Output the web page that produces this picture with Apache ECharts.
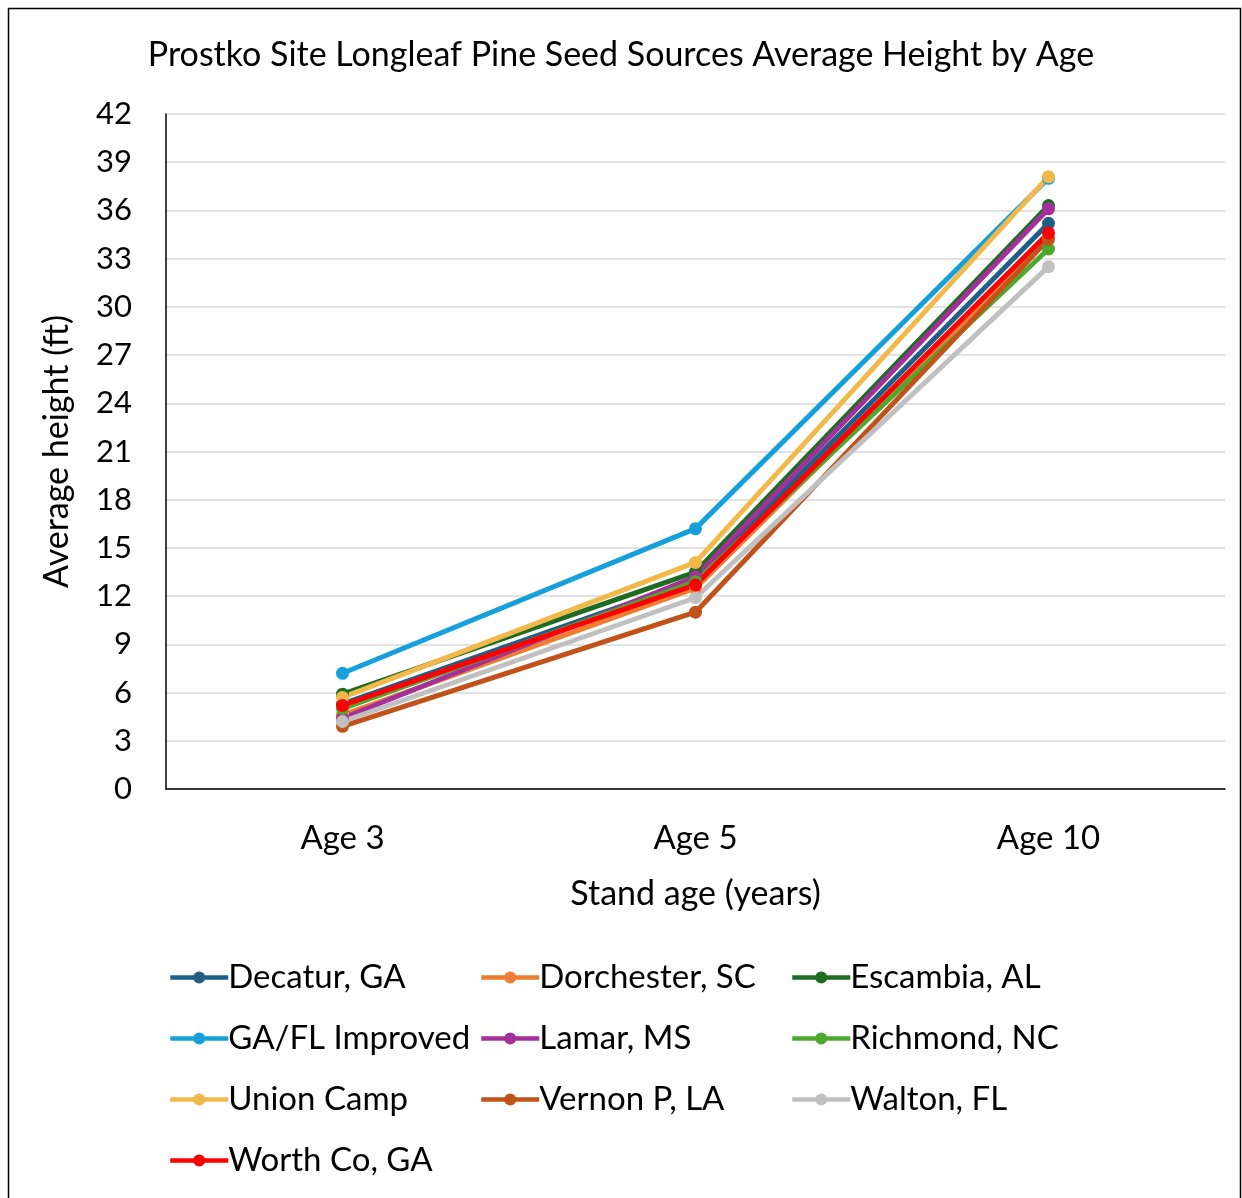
<!DOCTYPE html>
<html>
<head>
<meta charset="utf-8">
<script src="https://cdn.jsdelivr.net/npm/echarts@6/dist/echarts.min.js"></script>
<style>
  html, body { margin: 0; padding: 0; background: #fff; }
  #chart { width: 1242px; height: 1198px; }
</style>
</head>
<body>
<div id="chart"></div>
<script>
// stand ages on the x axis
const ages = ['Age 3', 'Age 5', 'Age 10'];

// average height (ft) per seed source
const decatur     = [5.3, 13.0, 35.2];
const dorchester  = [4.6, 12.5, 34.3];
const escambia    = [5.9, 13.5, 36.3];
const gaflImproved = [7.2, 16.2, 38.0];
const lamar       = [4.4, 13.2, 36.1];
const richmond    = [5.0, 12.9, 33.6];
const unionCamp   = [5.7, 14.1, 38.1];
const vernon      = [3.9, 11.0, 34.2];
const walton      = [4.2, 11.9, 32.5];
const worthCo     = [5.2, 12.7, 34.6];

const sources = [
  ['Decatur, GA', decatur, '#1F5F86'],
  ['Dorchester, SC', dorchester, '#ED7D31'],
  ['Escambia, AL', escambia, '#1E6B24'],
  ['GA/FL Improved', gaflImproved, '#15A0DB'],
  ['Lamar, MS', lamar, '#A5309A'],
  ['Richmond, NC', richmond, '#4EA72E'],
  ['Union Camp', unionCamp, '#F2B94A'],
  ['Vernon P, LA', vernon, '#C0521A'],
  ['Walton, FL', walton, '#C0C0C0'],
  ['Worth Co, GA', worthCo, '#FF0000']
];

const font = 'Lato, "Open Sans", sans-serif';

// legend: 3 columns, one legend per entry so the columns line up
const legendCols = [163, 474, 785];
const legendRows = [956, 1017, 1078, 1139];
const legends = sources.map((s, i) => ({
  data: [s[0]],
  left: legendCols[i % 3],
  top: legendRows[Math.floor(i / 3)],
  itemWidth: 58,
  itemHeight: 15,
  itemGap: 0,
  lineStyle: { width: 4.5 },
  textStyle: { fontFamily: font, fontSize: 33, color: '#000', padding: [0, 0, 0, -5] }
}));

const chart = echarts.init(document.getElementById('chart'));
chart.setOption({
  animation: false,
  backgroundColor: '#fff',
  textStyle: { fontFamily: font },
  title: {
    text: 'Prostko Site Longleaf Pine Seed Sources Average Height by Age',
    left: 'center',
    top: 33,
    textStyle: { fontFamily: font, fontSize: 34, fontWeight: 'normal', color: '#000' }
  },
  graphic: [{
    type: 'rect',
    shape: { x: 8.5, y: 8.5, width: 1232, height: 1200 },
    style: { fill: 'none', stroke: '#000', lineWidth: 1.5 },
    silent: true
  }],
  legend: legends,
  grid: { left: 166, right: 17, top: 114, bottom: 409 },
  xAxis: {
    type: 'category',
    data: ages,
    boundaryGap: true,
    name: 'Stand age (years)',
    nameLocation: 'middle',
    nameGap: 88,
    nameTextStyle: { fontFamily: font, fontSize: 34, color: '#000' },
    axisLine: { lineStyle: { color: '#000', width: 1.5 } },
    axisTick: { show: false },
    axisLabel: { fontFamily: font, fontSize: 33, color: '#000', margin: 33 }
  },
  yAxis: {
    type: 'value',
    min: 0,
    max: 42,
    interval: 3,
    name: 'Average height (ft)',
    nameLocation: 'middle',
    nameGap: 92,
    nameTextStyle: { fontFamily: font, fontSize: 34, color: '#000' },
    axisLine: { show: true, lineStyle: { color: '#000', width: 1.5 } },
    axisTick: { show: false },
    axisLabel: { fontFamily: font, fontSize: 31, color: '#000', margin: 34 },
    splitLine: { lineStyle: { color: '#D9D9D9', width: 1.5 } }
  },
  series: sources.map(s => ({
    name: s[0],
    type: 'line',
    data: s[1],
    symbol: 'circle',
    symbolSize: 13,
    lineStyle: { width: 5, color: s[2] },
    itemStyle: { color: s[2] }
  }))
});
</script>
</body>
</html>
